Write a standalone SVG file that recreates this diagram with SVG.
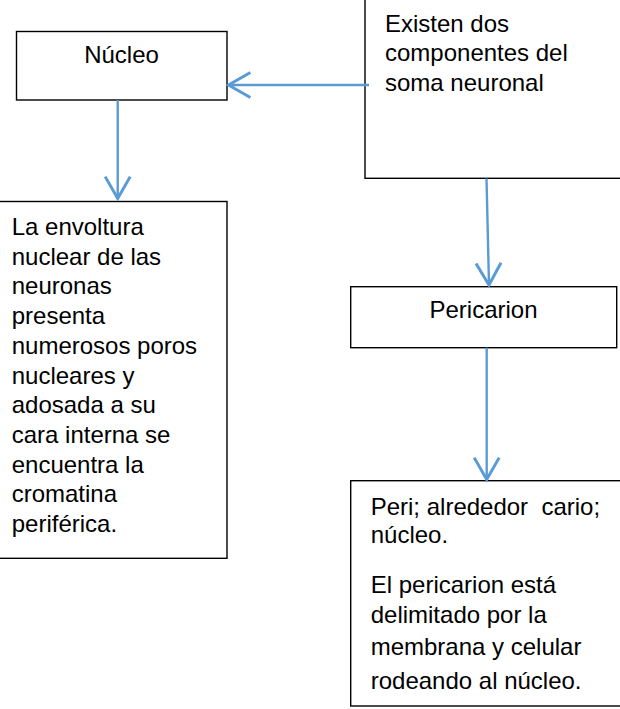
<svg xmlns="http://www.w3.org/2000/svg" width="620" height="709" viewBox="0 0 620 709">
<style>
.box{fill:#fff;stroke:#000;stroke-width:1.4}
.t{font-family:"Liberation Sans",Arial,sans-serif;font-size:24px;fill:#000;white-space:pre}
.c{text-anchor:middle}
.conn{fill:none;stroke:#5B9BD5;stroke-width:2.4;marker-end:url(#ah)}
</style>
<defs>
<marker id="ah" markerUnits="userSpaceOnUse" markerWidth="30" markerHeight="30" viewBox="-20 -12 22 24" refX="0" refY="0" orient="auto" overflow="visible">
<path d="M -17.5 -10 L 0 0 L -17.5 10" fill="none" stroke="#5B9BD5" stroke-width="2.4" stroke-linejoin="miter"/>
</marker>
</defs>
<rect width="620" height="709" fill="#fff"/>
<g id="nucleo">
<rect class="box" x="16.5" y="31.5" width="210.5" height="68.5"/>
<text class="t c" x="121.5" y="63">Núcleo</text>
</g>
<g id="existen">
<rect class="box" x="365" y="-10" width="270" height="188.3"/>
<text class="t" x="385" y="31.7">Existen dos</text>
<text class="t" x="385" y="61.4">componentes del</text>
<text class="t" x="385" y="91">soma neuronal</text>
</g>
<g id="envoltura">
<rect class="box" x="-5" y="201.5" width="232" height="356.8"/>
<text class="t" x="11.7" y="235">La envoltura</text>
<text class="t" x="11.7" y="264.7">nuclear de las</text>
<text class="t" x="11.7" y="294.4">neuronas</text>
<text class="t" x="11.7" y="324.1">presenta</text>
<text class="t" x="11.7" y="353.8">numerosos poros</text>
<text class="t" x="11.7" y="383.5">nucleares y</text>
<text class="t" x="11.7" y="413.2">adosada a su</text>
<text class="t" x="11.7" y="442.9">cara interna se</text>
<text class="t" x="11.7" y="472.6">encuentra la</text>
<text class="t" x="11.7" y="502.3">cromatina</text>
<text class="t" x="11.7" y="532">periférica.</text>
</g>
<g id="pericarion">
<rect class="box" x="350.7" y="286.7" width="266" height="61"/>
<text class="t c" x="483.5" y="318.3">Pericarion</text>
</g>
<g id="peri">
<rect class="box" x="350.7" y="480.7" width="290" height="225.3"/>
<text class="t" x="370.7" y="515" xml:space="preserve">Peri; alrededor  cario;</text>
<text class="t" x="370.7" y="543.3">núcleo.</text>
<text class="t" x="370.7" y="593.3">El pericarion está</text>
<text class="t" x="370.7" y="623.3">delimitado por la</text>
<text class="t" x="370.7" y="655">membrana y celular</text>
<text class="t" x="370.7" y="689.3">rodeando al núcleo.</text>
</g>
<g id="connectors">
<line class="conn" x1="369" y1="85" x2="228.5" y2="85"/>
<line class="conn" x1="117.7" y1="100" x2="117.7" y2="198.5"/>
<line class="conn" x1="486.5" y1="178.5" x2="489" y2="285"/>
<line class="conn" x1="486.7" y1="347.7" x2="486.7" y2="479.5"/>
</g>
</svg>
